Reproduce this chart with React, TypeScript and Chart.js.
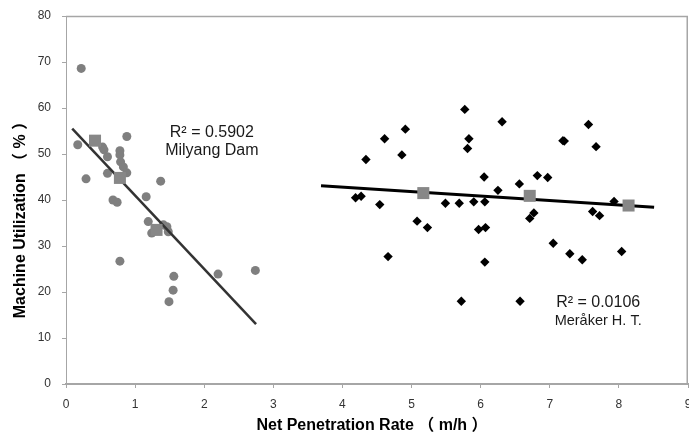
import React, { useEffect, useRef } from 'react';
import { Chart, registerables } from 'chart.js';

Chart.register(...registerables);

// Milyang Dam individual records (Net penetration rate m/h, Machine utilization %)
const milyangRate = [0.22, 0.17, 0.29, 0.88, 0.53, 0.55, 0.6, 0.78, 0.78, 0.79, 0.83, 0.88, 0.6, 1.37, 1.16, 0.68, 0.74, 1.19, 1.24, 1.41, 1.46, 1.48, 0.78, 1.56, 1.55, 1.49, 2.2, 2.74];
const milyangUtil = [68.6, 52.0, 44.6, 53.8, 51.5, 50.9, 49.4, 50.7, 49.8, 48.3, 47.2, 45.9, 45.8, 44.1, 40.7, 40.0, 39.5, 35.3, 32.8, 34.6, 34.2, 33.1, 26.7, 23.4, 20.4, 17.9, 23.9, 24.7];
// Milyang Dam mean values
const milyangMeanRate = [0.42, 0.78, 1.31];
const milyangMeanUtil = [52.9, 44.8, 33.5];
// Milyang Dam trend line end points
const milyangTrendRate = [0.09, 2.75];
const milyangTrendUtil = [55.5, 13.0];

// Meråker H. T. individual records
const merakerRate = [5.77, 4.61, 4.91, 4.34, 4.86, 5.83, 5.81, 6.05, 6.25, 4.19, 4.27, 4.54, 5.49, 5.69, 5.9, 6.06, 5.08, 5.23, 5.97, 6.07, 4.66, 6.06, 5.72, 6.31, 7.56, 7.19, 7.21, 7.67, 6.82, 6.97, 6.56, 7.93, 7.62, 7.72, 6.77, 6.71, 7.05, 7.29, 7.47, 8.04, 6.57];
const merakerUtil = [59.7, 53.3, 55.4, 48.8, 49.8, 53.3, 51.2, 45.0, 42.1, 40.5, 40.8, 39.0, 39.3, 39.3, 39.6, 39.6, 35.4, 34.0, 33.6, 34.0, 27.7, 26.5, 18.0, 57.0, 56.4, 52.9, 52.8, 51.6, 45.3, 44.9, 43.5, 39.7, 37.5, 36.6, 37.2, 36.0, 30.6, 28.3, 27.0, 28.8, 18.0];
// Meråker mean values
const merakerMeanRate = [5.17, 6.71, 8.14];
const merakerMeanUtil = [41.5, 40.9, 38.8];
// Meråker trend line end points
const merakerTrendRate = [3.69, 8.51];
const merakerTrendUtil = [43.1, 38.4];

const yTicks = [0, 10, 20, 30, 40, 50, 60, 70, 80];
const xTicks = [0, 1, 2, 3, 4, 5, 6, 7, 8, 9];

const xTitle = 'Net Penetration Rate （ m/h ）';
const yTitle = 'Machine Utilization （ % ）';
const milyangLabel = ['R² = 0.5902', 'Milyang Dam'];
const merakerLabel = ['R² = 0.0106', 'Meråker H. T.'];

const toPts = (xs: number[], ys: number[]) => xs.map((x, i) => ({ x, y: ys[i] }));

const FONT = "'Liberation Sans', Arial, 'Noto Sans CJK JP', sans-serif";

const decorPlugin = {
  id: 'decor',
  afterDraw(chart: any) {
    const { ctx, chartArea, scales } = chart;
    const { left, right, top, bottom } = chartArea;
    ctx.save();
    // top and right frame
    ctx.strokeStyle = '#a6a6a6';
    ctx.lineWidth = 1.5;
    ctx.beginPath();
    ctx.moveTo(left, top + 0.5);
    ctx.lineTo(right - 0.75, top + 0.5);
    ctx.lineTo(right - 0.75, bottom);
    ctx.stroke();

    // axis titles
    ctx.fillStyle = '#000';
    ctx.textAlign = 'center';
    ctx.textBaseline = 'middle';
    ctx.font = `bold 16px ${FONT}`;
    ctx.fillText(xTitle, 372, 426);
    ctx.save();
    ctx.translate(21, 216);
    ctx.rotate(-Math.PI / 2);
    ctx.fillText(yTitle, 0, 0);
    ctx.restore();

    // annotations
    const xs = scales.x;
    const ys = scales.y;
    ctx.fillStyle = '#1a1a1a';
    ctx.font = `16px ${FONT}`;
    ctx.fillText(milyangLabel[0], xs.getPixelForValue(2.11), ys.getPixelForValue(54.7));
    ctx.fillText(milyangLabel[1], xs.getPixelForValue(2.11), ys.getPixelForValue(50.7));
    ctx.fillText(merakerLabel[0], xs.getPixelForValue(7.7), ys.getPixelForValue(17.7));
    ctx.font = `14.5px ${FONT}`;
    ctx.fillText(merakerLabel[1], xs.getPixelForValue(7.7), ys.getPixelForValue(13.8));
    ctx.restore();
  },
};

export default function App() {
  const ref = useRef<HTMLCanvasElement | null>(null);
  useEffect(() => {
    if (!ref.current) return;
    const chart = new Chart(ref.current, {
      type: 'scatter',
      data: {
        datasets: [
          {
            label: 'Milyang means',
            data: toPts(milyangMeanRate, milyangMeanUtil),
            pointStyle: 'rect',
            pointRadius: 8.5,
            backgroundColor: '#878787',
            borderWidth: 0,
            order: 0,
          },
          {
            label: 'Meråker means',
            data: toPts(merakerMeanRate, merakerMeanUtil),
            pointStyle: 'rect',
            pointRadius: 8.5,
            backgroundColor: '#878787',
            borderWidth: 0,
            order: 0,
          },
          {
            label: 'Milyang trend',
            data: toPts(milyangTrendRate, milyangTrendUtil),
            showLine: true,
            pointRadius: 0,
            borderColor: '#333333',
            borderWidth: 2.5,
            order: 1,
          },
          {
            label: 'Meråker trend',
            data: toPts(merakerTrendRate, merakerTrendUtil),
            showLine: true,
            pointRadius: 0,
            borderColor: '#000000',
            borderWidth: 3,
            order: 1,
          },
          {
            label: 'Milyang Dam',
            data: toPts(milyangRate, milyangUtil),
            pointStyle: 'circle',
            pointRadius: 4.5,
            backgroundColor: '#7f7f7f',
            borderWidth: 0,
            order: 2,
          },
          {
            label: 'Meråker H. T.',
            data: toPts(merakerRate, merakerUtil),
            pointStyle: 'rectRot',
            pointRadius: 4.7,
            backgroundColor: '#000000',
            borderWidth: 0,
            order: 2,
          },
        ],
      },
      options: {
        responsive: false,
        animation: false,
        layout: { autoPadding: false, padding: { top: 16, right: 1, left: 0, bottom: 0 } },
        plugins: { legend: { display: false }, tooltip: { enabled: false } },
        scales: {
          x: {
            type: 'linear',
            min: 0,
            max: 9,
            afterBuildTicks: (s: any) => {
              s.ticks = xTicks.map((v) => ({ value: v }));
            },
            afterFit: (s: any) => {
              s.height = 53;
              s.paddingLeft = 0;
              s.paddingRight = 0;
            },
            ticks: { color: '#333', font: { size: 12, family: FONT }, padding: 9, maxRotation: 0 },
            grid: { drawOnChartArea: false, drawTicks: true, tickLength: 4, color: '#a6a6a6' },
            border: { display: true, color: '#a6a6a6', width: 2 },
          },
          y: {
            type: 'linear',
            min: 0,
            max: 80,
            afterBuildTicks: (s: any) => {
              s.ticks = yTicks.map((v) => ({ value: v }));
            },
            afterFit: (s: any) => {
              s.width = 66;
              s.paddingTop = 0;
              s.paddingBottom = 0;
            },
            ticks: { color: '#333', font: { size: 12, family: FONT }, padding: 11 },
            grid: { drawOnChartArea: false, drawTicks: true, tickLength: 4, color: '#a6a6a6' },
            border: { display: true, color: '#a6a6a6', width: 1 },
          },
        },
      },
      plugins: [decorPlugin],
    });
    return () => chart.destroy();
  }, []);
  return (
    <div style={{ position: 'absolute', left: 0, top: 0, width: 689, height: 437, background: '#fff' }}>
      <canvas ref={ref} width={689} height={437} style={{ display: 'block' }} />
    </div>
  );
}
